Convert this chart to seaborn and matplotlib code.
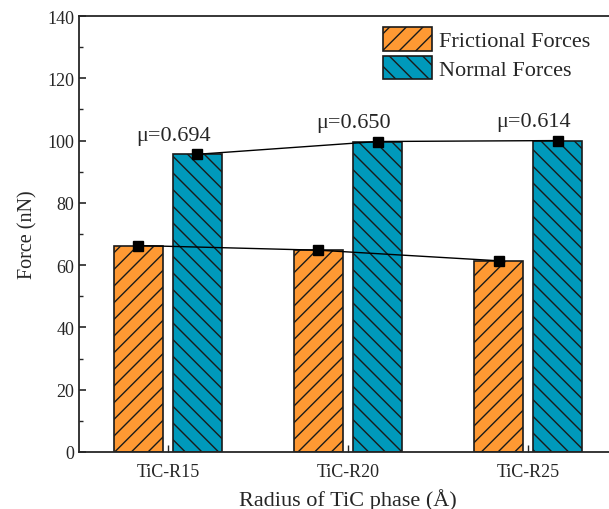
import numpy as np
import pandas as pd
import matplotlib
matplotlib.use("Agg")
import matplotlib.pyplot as plt
from matplotlib.ticker import MultipleLocator
import seaborn as sns

categories = ["TiC-R15", "TiC-R20", "TiC-R25"]
frictional = [66.3, 64.8, 61.4]
normal = [95.6, 99.7, 100.0]
mu_labels = ["μ=0.694", "μ=0.650", "μ=0.614"]
series_names = ["Frictional Forces", "Normal Forces"]
colors = ["#FF9933", "#0099BB"]
hatches = ["//", "\\\\"]

df = pd.DataFrame({
    "Radius": categories * 2,
    "Force": frictional + normal,
    "Series": [series_names[0]] * 3 + [series_names[1]] * 3,
})

sns.set_style("ticks")
plt.rcParams["font.family"] = ["Liberation Serif", "DejaVu Serif"]
plt.rcParams["hatch.linewidth"] = 1.0

fig = plt.figure(figsize=(6.09, 5.10), dpi=100)
ax = fig.add_axes([79 / 609, 57 / 510, 538 / 609, 436 / 510])

sns.barplot(data=df, x="Radius", y="Force", hue="Series", palette=colors,
            saturation=1, width=0.656, gap=0.17, edgecolor="#1a1a1a", linewidth=1.2,
            ax=ax, legend=True)

for cont, h in zip(ax.containers, hatches):
    for p in cont:
        p.set_hatch(h)
        p.set_edgecolor("#1a1a1a")

# connecting lines with square markers
for cont in ax.containers:
    xs = [p.get_x() + p.get_width() / 2 for p in cont]
    ys = [p.get_height() for p in cont]
    ax.plot(xs, ys, color="black", lw=1.0, marker="s", markersize=7, zorder=5)

# mu labels
for i, lab in enumerate(mu_labels):
    ax.annotate(lab, xy=(i, normal[i]), xytext=(4, 7), textcoords="offset points",
                ha="center", va="bottom", fontsize=16)

ax.set_ylim(0, 140)
ax.set_xlim(-0.494, 2.494)
ax.yaxis.set_major_locator(MultipleLocator(20))
ax.yaxis.set_minor_locator(MultipleLocator(10))
ax.tick_params(axis="y", which="major", direction="in", length=5, width=1.2, labelsize=13)
ax.tick_params(axis="y", which="minor", direction="in", length=3, width=1.0)
ax.tick_params(axis="x", which="major", direction="in", length=5, width=1.0, labelsize=13, pad=8)
for s in ax.spines.values():
    s.set_linewidth(1.3)
    s.set_visible(True)

ax.set_xlabel("Radius of TiC phase (Å)", fontsize=16, labelpad=6)
ax.set_ylabel("Force (nN)", fontsize=14.5, labelpad=7)

leg = ax.legend(loc="upper left", bbox_to_anchor=(383 / 609, 1 - 28 / 510),
                bbox_transform=fig.transFigure, frameon=False, fontsize=16,
                handlelength=2.2, handleheight=1.25, handletextpad=0.3,
                borderpad=0, labelspacing=0.2, borderaxespad=0)
for patch, h, c in zip(leg.get_patches(), hatches, colors):
    patch.set_hatch(h)
    patch.set_facecolor(c)
    patch.set_edgecolor("#1a1a1a")
    patch.set_linewidth(1.2)

fig.savefig("out.png", dpi=100)
